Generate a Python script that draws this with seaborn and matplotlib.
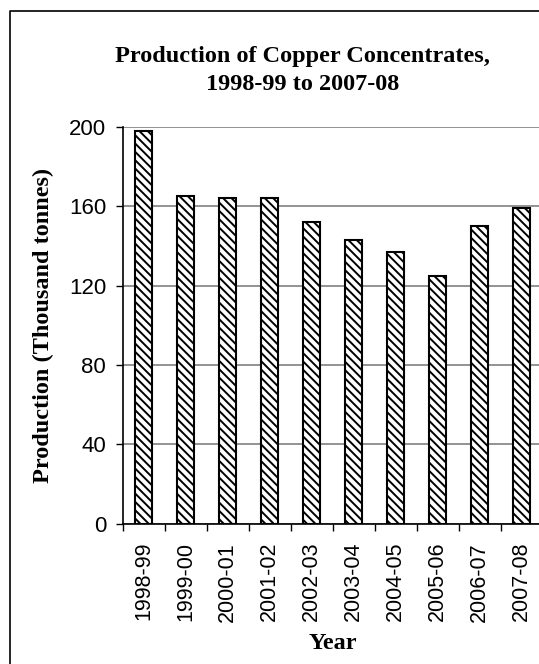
import numpy as np
import matplotlib
matplotlib.use("Agg")
import matplotlib.pyplot as plt
from matplotlib.lines import Line2D
import seaborn as sns

sns.set_style("white")
plt.rcParams['font.family'] = ['Liberation Sans', 'DejaVu Sans']
plt.rcParams['hatch.linewidth'] = 1.4
plt.rcParams['text.color'] = 'black'
plt.rcParams['axes.labelcolor'] = 'black'
plt.rcParams['xtick.color'] = 'black'
plt.rcParams['ytick.color'] = 'black'

years = ['1998-99', '1999-00', '2000-01', '2001-02', '2002-03',
         '2003-04', '2004-05', '2005-06', '2006-07', '2007-08']
production = [198, 165, 164, 164, 152, 143, 137, 125, 150, 159]
yticks = [0, 40, 80, 120, 160, 200]

fig = plt.figure(figsize=(5.39, 6.64), dpi=100)
ax = fig.add_axes([0.228, 0.211, 0.779, 0.598])

sns.barplot(x=years, y=production, color='white', edgecolor='black',
            linewidth=1.5, width=0.4, ax=ax, zorder=3)
for p in ax.patches:
    p.set_hatch('\\\\\\\\')

ax.set_ylim(0, 200)
ax.set_xlim(-0.5, 9.5)
ax.set_yticks(yticks)
ax.yaxis.grid(True, color='#808080', linewidth=1.2, zorder=0)
ax.set_axisbelow(True)

for s in ['top', 'right']:
    ax.spines[s].set_visible(False)
for s in ['left', 'bottom']:
    ax.spines[s].set_color('black')
    ax.spines[s].set_linewidth(1.2)

ax.tick_params(axis='y', direction='out', length=5, width=1, left=True,
               labelsize=16, pad=7)
ax.set_xticks(range(len(years)))
ax.set_xticklabels(years, rotation=90)
ax.set_xticks(np.arange(-0.5, len(years), 1), minor=True)
ax.tick_params(axis='x', which='major', length=0, labelsize=15.5, pad=13)
ax.tick_params(axis='x', which='minor', direction='out', length=5, width=1,
               bottom=True)

ax.set_xlabel('Year', family='Liberation Serif', fontweight='bold',
              fontsize=17.5, labelpad=8)
ax.set_ylabel('Production (Thousand tonnes)', family='Liberation Serif',
              fontweight='bold', fontsize=17.5, labelpad=11)

fig.text(0.562, 0.894, 'Production of Copper Concentrates,\n1998-99 to 2007-08',
         ha='center', va='center', family='Liberation Serif',
         fontweight='bold', fontsize=17.5, linespacing=1.45)

# outer chart-area border (left and top visible)
x0, y0 = 10 / 539, 1 - 11 / 664
fig.add_artist(Line2D([x0, x0, 1.01], [-0.01, y0, y0], color='black',
                      linewidth=1.2, transform=fig.transFigure))

fig.savefig('out.png', dpi=100)
